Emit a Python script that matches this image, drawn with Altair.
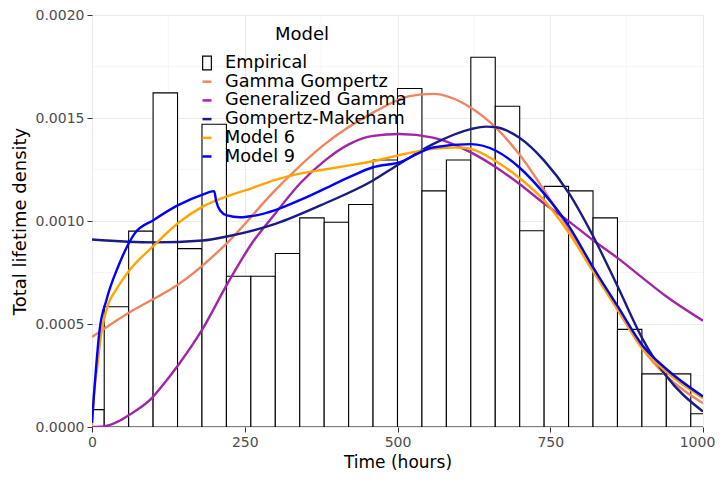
import altair as alt
import pandas as pd

# ---------------- data ----------------
bin_left = [-20, 20, 60, 100, 140, 180, 220, 260, 300, 340, 380, 420, 460,
            500, 540, 580, 620, 660, 700, 740, 780, 820, 860, 900, 940, 980]
bin_density = [0.0000845, 0.000584, 0.000951, 0.001622, 0.000866, 0.001470,
               0.000732, 0.000732, 0.000842, 0.001015, 0.000994, 0.001080,
               0.001296, 0.001643, 0.001146, 0.001296, 0.001795, 0.001557,
               0.000953, 0.001168, 0.001146, 0.001015, 0.000474, 0.000258,
               0.000258, 0.000064]
bin_width = 40

gg_h = [0, 61, 119, 141, 221, 300, 381, 460, 520, 558, 620, 661, 699, 740,
        781, 819, 860, 901, 939, 1000]
gg_d = [0.000437, 0.000556, 0.000652, 0.000692, 0.000893, 0.001150, 0.001373,
        0.001526, 0.001606, 0.001617, 0.001550, 0.001453, 0.001325, 0.001149,
        0.000957, 0.000780, 0.000572, 0.000380, 0.000251, 0.000115]

gen_h = [0, 20, 43, 61, 97.5, 119, 141, 181, 221, 262, 300, 340, 381, 421,
         460, 503, 558, 620, 661, 699, 740, 781, 819, 860, 901, 939, 1000]
gen_d = [0.0, 0.000003, 0.000027, 0.000059, 0.000139, 0.000215, 0.000300,
         0.000476, 0.000692, 0.000893, 0.001037, 0.001181, 0.001293, 0.001373,
         0.001413, 0.001422, 0.001405, 0.001333, 0.001261, 0.001181, 0.001085,
         0.000997, 0.000909, 0.000821, 0.000724, 0.000636, 0.000516]

gm_h = [0, 101, 181, 221, 300, 381, 460, 503, 558, 620, 645, 661, 699, 740,
        781, 819, 860, 901, 939, 1000]
gm_d = [0.000910, 0.000896, 0.000905, 0.000925, 0.000986, 0.001085, 0.001197,
        0.001277, 0.001373, 0.001446, 0.001458, 0.001455, 0.001405, 0.001293,
        0.001133, 0.000933, 0.000684, 0.000428, 0.000251, 0.000075]

m6_h = [0, 4, 9, 14, 27, 38, 61, 101, 141, 181, 221, 262, 300, 340, 381, 421,
        460, 503, 558, 596, 620, 661, 699, 740, 781, 819, 860, 901, 939, 1000]
m6_d = [0.00001, 0.00018, 0.00030, 0.00043, 0.00060, 0.00066, 0.00076,
        0.00088, 0.00099, 0.00107, 0.00112, 0.00116, 0.00120, 0.00123,
        0.00125, 0.00127, 0.00129, 0.00132, 0.00135, 0.001357, 0.00135,
        0.00129, 0.00121, 0.00110, 0.00094, 0.00076, 0.00057, 0.00038,
        0.00027, 0.00014]

m9_h = [0, 3, 7, 12, 24, 43, 70, 101, 141, 181, 200, 203, 210, 221, 242, 262,
        300, 340, 381, 421, 460, 503, 558, 620, 661, 699, 740, 781, 819, 860,
        901, 939, 1000]
m9_d = [0.00002, 0.00015, 0.00030, 0.00046, 0.00062, 0.00078, 0.00094,
        0.001005, 0.001077, 0.001128, 0.001145, 0.001100, 0.001050, 0.001027,
        0.001018, 0.001024, 0.001053, 0.001101, 0.001157, 0.001213, 0.001261,
        0.001285, 0.001357, 0.001373, 0.001341, 0.001261, 0.001133, 0.000973,
        0.000780, 0.000588, 0.000396, 0.000284, 0.000148]

legend_models = ["Empirical", "Gamma Gompertz", "Generalized Gamma",
                 "Gompertz-Makeham", "Model 6", "Model 9"]
legend_colors = ["#000000", "#F08462", "#A224A8", "#1B1B85", "#FFA500",
                 "#0000FF"]

x_major = [0, 250, 500, 750, 1000]
y_major = [0.0, 0.0005, 0.0010, 0.0015, 0.0020]
x_minor = [125, 375, 625, 875]
y_minor = [0.00025, 0.00075, 0.00125, 0.00175]

# ---------------- tables ----------------
hist = pd.DataFrame({"left": bin_left, "density": bin_density})
hist["right"] = hist["left"] + bin_width

curves = pd.concat([
    pd.DataFrame({"Model": "Gamma Gompertz", "hours": gg_h, "density": gg_d}),
    pd.DataFrame({"Model": "Generalized Gamma", "hours": gen_h, "density": gen_d}),
    pd.DataFrame({"Model": "Gompertz-Makeham", "hours": gm_h, "density": gm_d}),
    pd.DataFrame({"Model": "Model 6", "hours": m6_h, "density": m6_d}),
    pd.DataFrame({"Model": "Model 9", "hours": m9_h, "density": m9_d}),
], ignore_index=True)

legend_df = pd.DataFrame({"Model": legend_models})

xscale = alt.Scale(domain=[0, 1000], nice=False, zero=False)
yscale = alt.Scale(domain=[0, 0.002], nice=False)

FONT = "DejaVu Sans"

xaxis = alt.Axis(values=x_major, format="d", title="Time (hours)",
                 labelFlush=False, grid=True, gridColor="#EBEBEB",
                 gridWidth=1.1, domain=False, tickColor="#333333",
                 tickSize=5, tickWidth=1, labelColor="#4D4D4D",
                 labelFontSize=14, labelPadding=3, titleFontSize=17,
                 titleFontWeight="normal", titleColor="#000000",
                 titlePadding=5, labelFont=FONT, titleFont=FONT,
                 labelOffset={"condition": {"test": "datum.value == 1000",
                                            "value": -6},
                              "value": 0})
yaxis = alt.Axis(values=y_major, format=".4f", title="Total lifetime density",
                 labelFlush=False, grid=True, gridColor="#EBEBEB",
                 gridWidth=1.1, domain=False, tickColor="#333333",
                 tickSize=5, tickWidth=1, labelColor="#4D4D4D",
                 labelFontSize=14, labelPadding=3, titleFontSize=18,
                 titleFontWeight="normal", titleColor="#000000",
                 titlePadding=6, labelFont=FONT, titleFont=FONT)

minor_x = alt.Chart(pd.DataFrame({"v": x_minor})).mark_rule(
    color="#F0F0F0", strokeWidth=0.6).encode(
    x=alt.X("v:Q", scale=xscale, axis=xaxis))
minor_y = alt.Chart(pd.DataFrame({"v": y_minor})).mark_rule(
    color="#F0F0F0", strokeWidth=0.6).encode(
    y=alt.Y("v:Q", scale=yscale, axis=yaxis))

bars = alt.Chart(hist).mark_bar(
    fill="white", stroke="black", strokeWidth=1.1, clip=True
).encode(
    x=alt.X("left:Q", scale=xscale, axis=xaxis),
    x2="right:Q",
    y=alt.Y("density:Q", scale=yscale, axis=yaxis),
    y2=alt.datum(0),
)

lines = alt.Chart(curves).mark_line(
    strokeWidth=2.4, interpolate="monotone", clip=True
).encode(
    x=alt.X("hours:Q", scale=xscale, axis=xaxis),
    y=alt.Y("density:Q", scale=yscale, axis=yaxis),
    color=alt.Color("Model:N",
                    scale=alt.Scale(domain=legend_models, range=legend_colors),
                    legend=None),
)

rect_ring = ("M-0.55,-0.83L0.55,-0.83L0.55,0.83L-0.55,0.83Z"
             "M-0.42,-0.70L-0.42,0.70L0.42,0.70L0.42,-0.70Z")
dash = "M-0.5,-0.14L0.5,-0.14L0.5,0.14L-0.5,0.14Z"
legend_shapes = [rect_ring, dash, dash, dash, dash, dash]

leg = alt.Legend(title="Model", orient="none", legendX=106, legendY=11,
                 direction="vertical", titleAnchor="middle",
                 titleFontSize=18, titleFontWeight="normal",
                 titleColor="#000000", titlePadding=10,
                 labelFontSize=17.7, labelColor="#000000", labelOffset=9,
                 labelLimit=400,
                 symbolSize=324, symbolStrokeWidth=0, rowPadding=0.7,
                 padding=0, labelFont=FONT, titleFont=FONT,
                 symbolOpacity=1)

legend_layer = alt.Chart(legend_df).transform_filter("false").mark_point(
    filled=True, opacity=1, size=324
).encode(
    color=alt.Color("Model:N",
                    scale=alt.Scale(domain=legend_models, range=legend_colors),
                    legend=leg),
    shape=alt.Shape("Model:N",
                    scale=alt.Scale(domain=legend_models, range=legend_shapes),
                    legend=leg),
)

chart = alt.layer(minor_x, minor_y, bars, lines, legend_layer).resolve_scale(
    color="independent", shape="independent"
).properties(
    width=611, height=412,
    autosize=alt.AutoSizeParams(type="none"),
    padding={"left": 84, "top": 7, "right": 12, "bottom": 55},
    background="white",
).configure_view(
    stroke="#333333", strokeWidth=1
).configure(font=FONT)

chart.save("out.html", embed_options={"renderer": "svg", "actions": False})
